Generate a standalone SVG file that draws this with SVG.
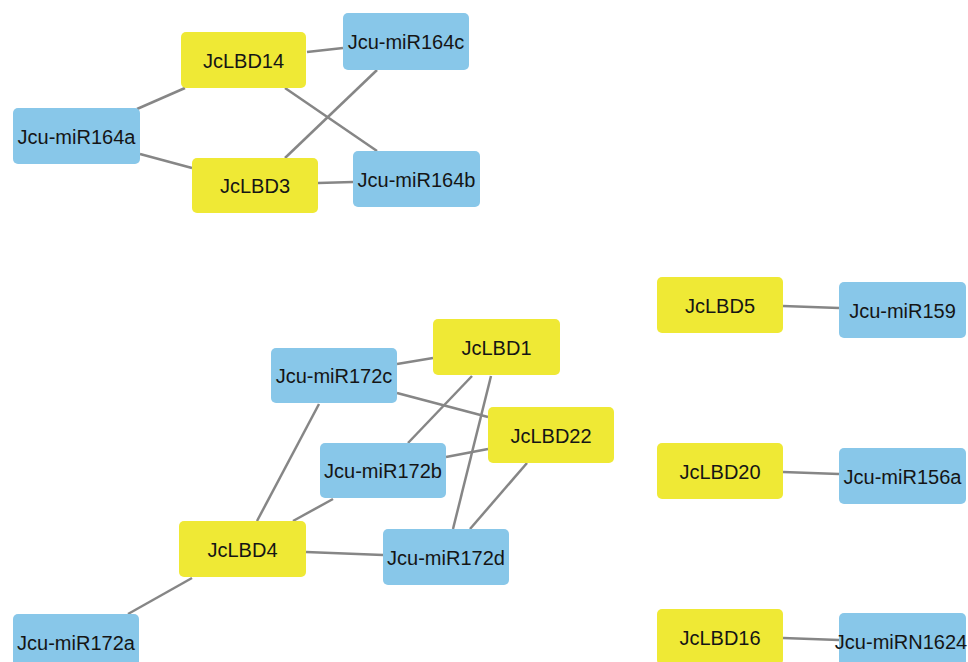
<svg xmlns="http://www.w3.org/2000/svg" width="968" height="662" viewBox="0 0 968 662">
<style>
.g rect{fill:#EFE935}
.m rect{fill:#88C7E9}
rect{rx:5;ry:5}
text{font-family:"Liberation Sans",Arial,sans-serif;font-size:20px;fill:#151515;text-anchor:middle}
#edges line{stroke:#868686;stroke-width:2.5}
</style>
<rect width="968" height="662" fill="#fff"/>
<g id="edges">
<line x1="307" y1="52" x2="343" y2="48"/>
<line x1="137" y1="109" x2="185" y2="88"/>
<line x1="140" y1="154" x2="192" y2="168"/>
<line x1="285" y1="158" x2="377" y2="70"/>
<line x1="285" y1="88" x2="377" y2="151"/>
<line x1="318" y1="183" x2="353" y2="182"/>
<line x1="397" y1="364" x2="433" y2="358"/>
<line x1="397" y1="393" x2="488" y2="417"/>
<line x1="472" y1="376" x2="408" y2="443"/>
<line x1="491" y1="376" x2="453" y2="529"/>
<line x1="446" y1="457" x2="488" y2="449"/>
<line x1="527" y1="463" x2="470" y2="529"/>
<line x1="319" y1="404" x2="257" y2="521"/>
<line x1="333" y1="499" x2="293" y2="521"/>
<line x1="306" y1="552" x2="383" y2="555"/>
<line x1="192" y1="578" x2="128" y2="614"/>
<line x1="783" y1="306" x2="839" y2="308"/>
<line x1="783" y1="472" x2="839" y2="474"/>
<line x1="783" y1="638" x2="839" y2="640"/>
</g>
<g id="JcLBD14" class="g"><rect x="181" y="32" width="125" height="56"/><text x="243.5" y="67.5">JcLBD14</text></g>
<g id="Jcu-miR164c" class="m"><rect x="343" y="13" width="126" height="57"/><text x="406" y="48.5">Jcu-miR164c</text></g>
<g id="Jcu-miR164a" class="m"><rect x="13" y="108" width="127" height="56"/><text x="76.5" y="143.5">Jcu-miR164a</text></g>
<g id="JcLBD3" class="g"><rect x="192" y="158" width="126" height="55"/><text x="255" y="192.5">JcLBD3</text></g>
<g id="Jcu-miR164b" class="m"><rect x="353" y="151" width="127" height="56"/><text x="416.5" y="186.5">Jcu-miR164b</text></g>
<g id="JcLBD1" class="g"><rect x="433" y="319" width="127" height="56"/><text x="496.5" y="354.5">JcLBD1</text></g>
<g id="Jcu-miR172c" class="m"><rect x="271" y="348" width="126" height="55"/><text x="334" y="382.5">Jcu-miR172c</text></g>
<g id="JcLBD22" class="g"><rect x="488" y="407" width="126" height="56"/><text x="551" y="442.5">JcLBD22</text></g>
<g id="Jcu-miR172b" class="m"><rect x="320" y="443" width="126" height="55"/><text x="383" y="477.5">Jcu-miR172b</text></g>
<g id="JcLBD4" class="g"><rect x="179" y="521" width="127" height="56"/><text x="242.5" y="556.5">JcLBD4</text></g>
<g id="Jcu-miR172d" class="m"><rect x="383" y="529" width="126" height="56"/><text x="446" y="564.5">Jcu-miR172d</text></g>
<g id="Jcu-miR172a" class="m"><rect x="13" y="614" width="126" height="56"/><text x="76" y="649.5">Jcu-miR172a</text></g>
<g id="JcLBD5" class="g"><rect x="657" y="277" width="126" height="56"/><text x="720" y="312.5">JcLBD5</text></g>
<g id="Jcu-miR159" class="m"><rect x="839" y="282" width="127" height="56"/><text x="902.5" y="317.5">Jcu-miR159</text></g>
<g id="JcLBD20" class="g"><rect x="657" y="443" width="126" height="56"/><text x="720" y="478.5">JcLBD20</text></g>
<g id="Jcu-miR156a" class="m"><rect x="839" y="448" width="127" height="56"/><text x="902.5" y="483.5">Jcu-miR156a</text></g>
<g id="JcLBD16" class="g"><rect x="657" y="609" width="126" height="56"/><text x="720" y="644.5">JcLBD16</text></g>
<g id="Jcu-miRN1624" class="m"><rect x="839" y="613" width="127" height="56"/><text x="901" y="648.5">Jcu-miRN1624</text></g>
</svg>
